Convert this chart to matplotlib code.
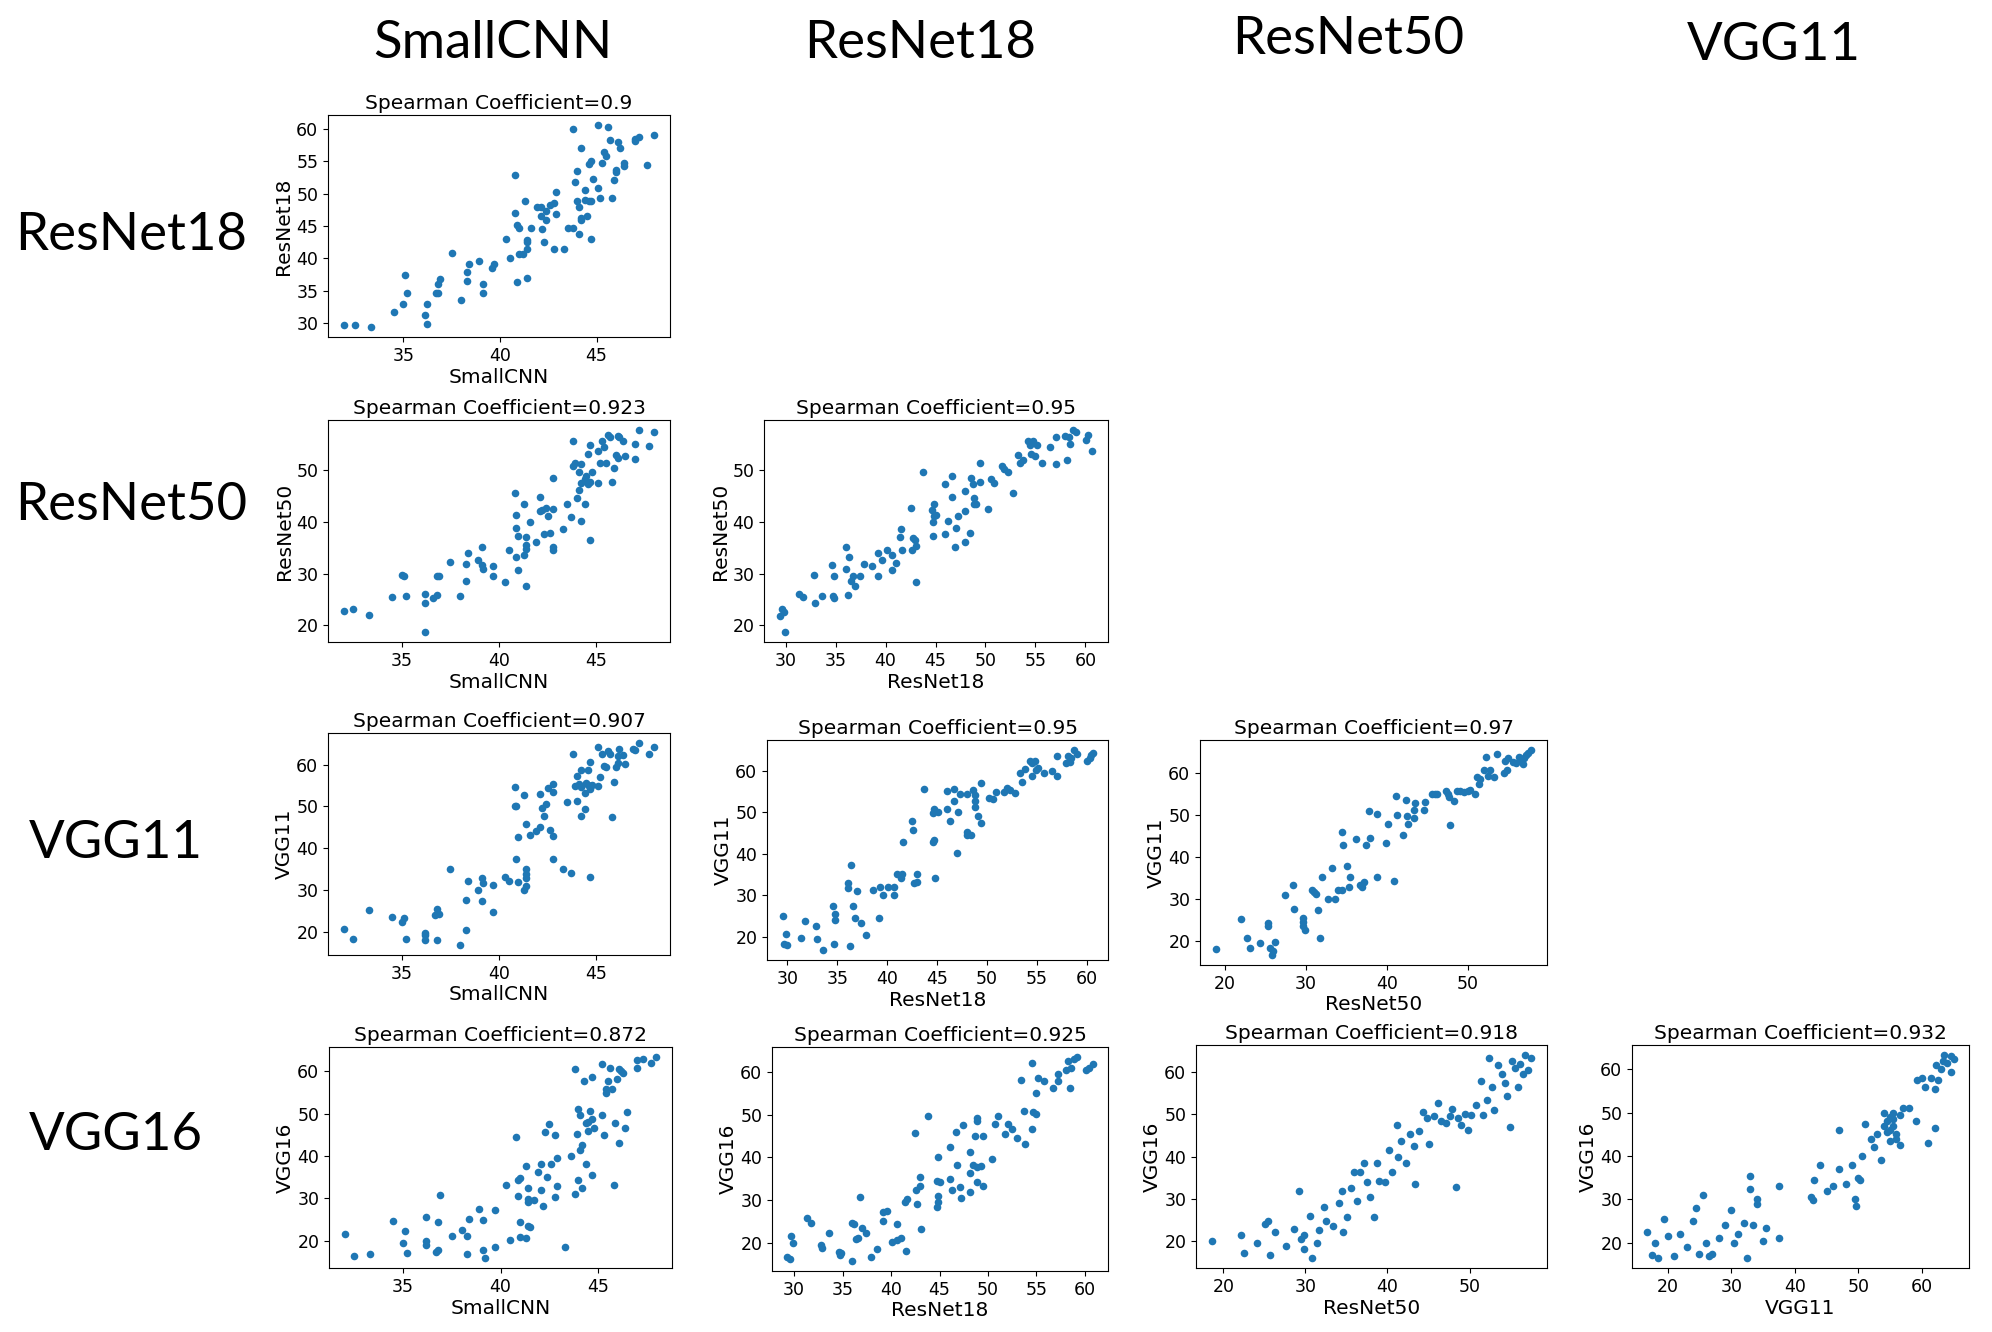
import matplotlib
matplotlib.use("Agg")
import matplotlib.pyplot as plt
from matplotlib.ticker import MultipleLocator

W, H = 1992, 1332

model_names = ["SmallCNN", "ResNet18", "ResNet50", "VGG11", "VGG16"]

# ---- panel data (x = column model, y = row model) ----
smallcnn_r18_x = [31.9, 32.5, 33.3, 34.5, 35.0, 35.1, 35.2, 36.1, 36.2, 36.2,
                  36.7, 36.8, 36.8, 36.9, 37.5, 38.0, 38.3, 38.3, 38.4, 38.9,
                  39.1, 39.1, 39.6, 39.7, 40.3, 40.5, 40.8, 40.8, 40.9, 40.9,
                  41.0, 41.0, 41.2, 41.3, 41.4, 41.4, 41.4, 41.4, 41.6, 41.9,
                  42.1, 42.1, 42.2, 42.3, 42.4, 42.4, 42.6, 42.8, 42.8, 42.9,
                  42.9, 43.3, 43.5, 43.8, 43.8, 43.9, 44.0, 44.0, 44.1, 44.1,
                  44.2, 44.2, 44.2, 44.4, 44.4, 44.5, 44.6, 44.6, 44.7, 44.7,
                  44.7, 44.8, 45.1, 45.1, 45.2, 45.3, 45.4, 45.5, 45.6, 45.7,
                  45.8, 45.9, 46.0, 46.0, 46.1, 46.2, 46.4, 46.4, 47.0, 47.0,
                  47.2, 47.6, 48.0]
smallcnn_r18_y = [29.7, 29.7, 29.4, 31.7, 32.9, 37.4, 34.6, 31.3, 29.8, 33.0,
                  34.7, 34.7, 36.1, 36.8, 40.9, 33.6, 36.5, 37.9, 39.1, 39.6,
                  34.6, 36.0, 38.5, 39.1, 43.0, 40.1, 47.0, 52.9, 36.3, 45.1,
                  44.7, 40.6, 40.6, 48.8, 42.9, 42.5, 41.4, 37.0, 44.7, 48.0,
                  48.0, 46.6, 44.5, 42.5, 45.9, 47.3, 48.3, 48.6, 41.5, 50.2,
                  46.9, 41.5, 44.7, 44.7, 60.0, 51.8, 53.5, 48.8, 43.7, 48.0,
                  45.9, 57.0, 46.2, 50.5, 49.0, 46.6, 48.8, 54.6, 43.0, 55.1,
                  48.8, 52.3, 60.6, 50.8, 49.4, 54.8, 56.5, 55.8, 60.3, 58.3,
                  49.4, 52.1, 53.3, 53.7, 58.0, 57.0, 54.3, 54.8, 58.1, 58.5,
                  58.7, 54.5, 59.1]

smallcnn_r50_x = [32.0, 32.5, 33.3, 34.5, 35.0, 35.1, 35.2, 36.2, 36.2, 36.2,
                  36.6, 36.8, 36.8, 36.9, 37.5, 38.0, 38.3, 38.3, 38.4, 38.9,
                  39.1, 39.1, 39.2, 39.7, 39.7, 40.3, 40.5, 40.8, 40.9, 40.9,
                  40.9, 41.0, 41.0, 41.3, 41.3, 41.4, 41.4, 41.4, 41.4, 41.6,
                  41.9, 42.1, 42.1, 42.2, 42.4, 42.3, 42.5, 42.6, 42.8, 42.8,
                  42.8, 42.8, 43.3, 43.5, 43.7, 43.8, 43.8, 43.9, 44.0, 44.1,
                  44.1, 44.2, 44.2, 44.2, 44.4, 44.4, 44.5, 44.6, 44.6, 44.7,
                  44.7, 44.7, 44.8, 45.1, 45.1, 45.2, 45.3, 45.4, 45.5, 45.6,
                  45.7, 45.8, 45.9, 46.0, 46.1, 46.1, 46.2, 46.4, 46.5, 47.0,
                  47.0, 47.2, 47.7, 48.0]
smallcnn_r50_y = [22.7, 23.1, 21.9, 25.4, 29.7, 29.6, 25.7, 26.0, 24.3, 18.7,
                  25.2, 25.9, 29.6, 29.6, 32.2, 25.7, 28.6, 31.8, 33.9, 32.7,
                  35.2, 31.6, 30.9, 31.4, 29.6, 28.4, 34.5, 45.6, 38.9, 41.3,
                  33.2, 37.3, 30.7, 33.6, 43.5, 35.5, 34.7, 37.1, 27.5, 39.9,
                  36.1, 44.8, 42.1, 42.4, 42.7, 37.7, 41.1, 37.9, 34.6, 35.1,
                  48.6, 42.5, 38.7, 43.5, 40.9, 55.7, 50.8, 51.5, 44.6, 49.7,
                  46.1, 40.1, 47.5, 51.2, 43.5, 48.3, 49.0, 47.4, 53.2, 55.0,
                  36.6, 47.8, 49.6, 53.7, 47.6, 51.5, 55.7, 54.6, 51.5, 56.9,
                  56.4, 47.8, 50.4, 53.0, 56.7, 52.3, 56.4, 55.7, 52.8, 55.1,
                  52.2, 57.8, 54.8, 57.5]

r18_r50_x = [29.4, 29.6, 29.8, 29.9, 31.3, 31.7, 32.8, 32.9, 33.6, 34.6,
             34.7, 34.8, 34.8, 36.0, 36.0, 36.3, 36.2, 36.5, 36.7, 36.9,
             37.4, 37.8, 38.6, 39.2, 39.2, 39.6, 40.1, 40.6, 40.6, 41.0,
             41.4, 41.5, 41.6, 42.5, 42.6, 42.7, 42.9, 43.0, 43.0, 43.7,
             44.6, 44.7, 44.7, 44.8, 44.8, 45.1, 46.0, 46.0, 46.3, 46.7,
             46.7, 47.0, 47.1, 47.3, 48.0, 48.0, 48.0, 48.5, 48.6, 48.8,
             48.9, 48.9, 49.1, 49.5, 49.5, 50.3, 50.6, 50.9, 51.7, 51.9,
             52.3, 52.8, 53.3, 53.5, 53.8, 54.3, 54.5, 54.6, 54.8, 55.0,
             55.2, 55.7, 56.5, 57.1, 57.1, 58.0, 58.2, 58.4, 58.5, 58.8,
             59.1, 60.1, 60.3, 60.7]
r18_r50_y = [21.8, 23.1, 22.6, 18.7, 26.1, 25.5, 29.8, 24.3, 25.7, 31.6,
             25.7, 25.3, 29.6, 35.1, 30.9, 33.2, 25.8, 28.6, 29.6, 27.5,
             29.6, 31.8, 31.4, 33.9, 29.6, 32.7, 34.5, 33.6, 30.7, 32.1,
             37.1, 38.7, 34.5, 42.7, 34.5, 36.9, 36.5, 35.3, 28.4, 49.7,
             42.4, 37.3, 39.9, 43.5, 41.1, 41.3, 47.4, 37.7, 40.1, 49.0,
             44.8, 35.1, 38.9, 41.1, 46.0, 42.1, 36.1, 37.9, 48.6, 47.4,
             44.7, 43.5, 43.5, 51.5, 47.8, 42.5, 48.4, 47.6, 50.8, 50.3,
             49.6, 45.6, 53.0, 51.4, 52.1, 55.7, 55.0, 53.2, 55.7, 52.8,
             55.0, 51.5, 54.6, 56.5, 51.2, 56.7, 52.1, 56.5, 55.1, 57.8,
             57.5, 55.8, 56.9, 53.8]

smallcnn_vgg11_x = [32.0, 32.5, 33.3, 34.5, 35.0, 35.1, 35.2, 36.2, 36.2, 36.2,
                    36.7, 36.8, 36.8, 36.9, 37.5, 38.0, 38.3, 38.3, 38.4, 38.9,
                    39.1, 39.1, 39.2, 39.7, 39.7, 40.3, 40.5, 40.8, 40.8, 40.9,
                    40.9, 41.0, 41.0, 41.3, 41.3, 41.4, 41.4, 41.4, 41.4, 41.4,
                    41.6, 41.9, 42.1, 42.1, 42.2, 42.4, 42.3, 42.5, 42.6, 42.8,
                    42.8, 42.8, 42.8, 43.3, 43.5, 43.7, 43.8, 43.9, 44.0, 44.0,
                    44.1, 44.2, 44.2, 44.2, 44.4, 44.4, 44.5, 44.6, 44.6, 44.7,
                    44.7, 44.7, 44.8, 45.1, 45.1, 45.2, 45.3, 45.4, 45.5, 45.6,
                    45.7, 45.8, 45.9, 46.0, 46.1, 46.1, 46.2, 46.4, 46.5, 47.0,
                    46.9, 47.2, 47.7, 48.0]
smallcnn_vgg11_y = [20.6, 18.3, 25.1, 23.6, 22.4, 23.3, 18.3, 19.6, 17.9, 19.1,
                    24.0, 17.9, 25.3, 24.2, 35.1, 16.8, 27.5, 20.4, 32.1, 29.9,
                    32.9, 27.3, 31.6, 31.2, 24.6, 33.2, 32.1, 54.7, 50.0, 50.0,
                    37.3, 42.7, 31.9, 29.9, 52.7, 35.1, 33.9, 32.9, 31.0, 45.8,
                    43.2, 44.0, 45.1, 52.9, 49.6, 50.7, 47.8, 54.4, 44.4, 42.9,
                    55.3, 53.4, 37.5, 35.1, 51.0, 34.1, 62.5, 55.0, 57.3, 51.2,
                    55.4, 47.8, 58.7, 54.7, 49.3, 53.2, 55.6, 55.1, 58.7, 60.7,
                    33.1, 54.1, 55.2, 64.3, 54.9, 57.1, 62.5, 59.8, 59.5, 63.4,
                    62.5, 47.5, 55.9, 59.5, 62.1, 60.5, 63.7, 62.3, 60.2, 63.5,
                    63.9, 65.2, 62.7, 64.2]

r18_vgg11_x = [29.5, 29.7, 29.9, 30.0, 31.4, 31.8, 32.9, 33.0, 33.6, 34.6,
               34.7, 34.8, 34.8, 36.1, 36.1, 36.3, 36.4, 36.6, 36.8, 37.0,
               37.4, 37.9, 38.6, 39.2, 39.3, 39.6, 40.1, 40.7, 40.7, 41.0,
               41.4, 41.5, 41.6, 42.5, 42.6, 42.7, 43.0, 43.0, 43.7, 44.6,
               44.7, 44.6, 44.7, 44.8, 45.1, 46.0, 46.0, 46.3, 46.7, 46.7,
               47.0, 47.1, 47.3, 48.0, 48.0, 48.0, 48.4, 48.6, 48.8, 48.8,
               48.8, 49.1, 49.4, 49.4, 50.2, 50.6, 50.9, 51.7, 52.0, 52.3,
               52.8, 53.3, 53.5, 53.8, 54.3, 54.5, 54.5, 54.8, 54.9, 55.1,
               55.7, 56.5, 57.0, 57.0, 57.9, 58.1, 58.3, 58.4, 58.7, 59.0,
               60.0, 60.3, 60.4, 60.6]
r18_vgg11_y = [25.1, 18.3, 20.7, 17.9, 19.8, 23.7, 22.5, 19.5, 16.8, 27.3,
               18.3, 24.1, 25.4, 32.9, 31.7, 17.8, 37.3, 27.5, 24.4, 30.9,
               23.4, 20.5, 31.2, 24.6, 32.1, 30.0, 32.1, 32.0, 30.0, 35.1,
               34.1, 35.1, 42.9, 47.8, 45.8, 32.9, 33.2, 35.1, 55.5, 42.9,
               43.2, 49.7, 50.9, 34.1, 50.0, 50.7, 55.1, 47.8, 52.8, 55.5,
               40.1, 50.0, 54.3, 45.2, 44.4, 54.5, 44.4, 55.3, 54.1, 52.6,
               51.2, 49.2, 57.1, 47.5, 53.4, 53.1, 54.8, 54.8, 55.8, 55.3,
               54.6, 59.4, 57.3, 60.4, 62.4, 61.9, 58.8, 62.4, 60.2, 60.7,
               59.4, 59.9, 63.5, 58.7, 61.9, 63.5, 62.2, 63.1, 65.0, 64.1,
               62.4, 63.1, 63.9, 64.3]

r50_vgg11_x = [18.9, 22.0, 22.7, 23.1, 24.4, 25.3, 25.4, 25.6, 25.8, 25.9,
               26.2, 27.4, 28.4, 28.6, 29.6, 29.6, 29.7, 29.9, 30.8, 31.0,
               31.3, 31.5, 31.8, 32.0, 32.8, 33.2, 33.6, 34.0, 34.5, 34.5,
               34.6, 35.1, 35.3, 35.4, 36.2, 36.7, 36.9, 37.2, 37.4, 37.8,
               37.9, 38.8, 38.8, 39.9, 40.1, 40.9, 41.1, 41.2, 42.0, 42.4,
               42.5, 42.6, 43.4, 43.4, 43.5, 44.6, 44.7, 45.6, 45.9, 46.2,
               47.3, 47.5, 47.7, 47.8, 48.3, 48.6, 49.0, 49.5, 50.0, 50.3,
               50.9, 51.1, 51.4, 51.5, 52.0, 52.2, 52.5, 52.7, 53.2, 53.6,
               54.4, 54.8, 54.6, 54.9, 55.5, 55.9, 56.3, 56.5, 56.8, 56.9,
               57.2, 57.4, 57.8]
r50_vgg11_y = [18.0, 25.1, 20.7, 18.3, 19.5, 24.2, 23.6, 18.4, 16.7, 17.7,
               19.8, 31.0, 33.3, 27.5, 25.4, 24.4, 23.5, 22.5, 32.0, 31.7,
               31.2, 27.3, 20.6, 35.1, 30.0, 37.3, 30.0, 32.2, 32.2, 45.9,
               42.9, 37.7, 32.9, 35.1, 44.2, 33.2, 32.9, 34.1, 42.7, 50.8,
               44.5, 50.1, 35.1, 43.2, 47.8, 34.2, 54.4, 50.0, 45.2, 53.5,
               49.7, 47.8, 51.1, 49.3, 52.8, 51.2, 53.0, 54.8, 54.8, 54.8,
               55.5, 54.8, 54.2, 47.6, 53.3, 55.5, 55.7, 55.4, 55.7, 55.9,
               55.0, 58.9, 57.3, 58.5, 60.6, 63.7, 59.1, 60.5, 58.9, 64.4,
               60.0, 60.7, 62.7, 63.5, 62.6, 62.3, 63.8, 63.0, 62.1, 63.4,
               64.2, 64.6, 65.3]

smallcnn_vgg16_x = [32.0, 32.5, 33.3, 34.5, 35.0, 35.1, 35.2, 36.2, 36.2, 36.2,
                    36.7, 36.8, 36.8, 36.9, 37.5, 38.0, 38.3, 38.3, 38.4, 38.9,
                    39.1, 39.1, 39.2, 39.7, 39.7, 40.3, 40.5, 40.8, 40.9, 40.9,
                    41.0, 41.0, 41.0, 41.3, 41.3, 41.4, 41.4, 41.4, 41.4, 41.5,
                    41.7, 41.9, 42.1, 42.1, 42.2, 42.3, 42.4, 42.5, 42.6, 42.8,
                    42.8, 42.9, 42.9, 43.3, 43.6, 43.8, 43.8, 43.9, 44.0, 44.0,
                    44.1, 44.1, 44.2, 44.2, 44.3, 44.4, 44.4, 44.5, 44.5, 44.6,
                    44.7, 44.7, 44.7, 44.8, 45.2, 45.2, 45.3, 45.4, 45.4, 45.5,
                    45.6, 45.7, 45.8, 45.9, 46.0, 46.1, 46.1, 46.2, 46.3, 46.4,
                    46.5, 47.0, 47.0, 47.3, 47.7, 48.0]
smallcnn_vgg16_y = [21.6, 16.3, 16.8, 24.7, 19.4, 22.3, 17.1, 25.7, 20.0, 19.0,
                    17.3, 24.5, 17.7, 30.8, 21.2, 22.4, 21.2, 16.9, 25.0, 27.4,
                    24.8, 17.7, 15.9, 18.4, 27.2, 33.2, 20.1, 44.5, 30.5, 34.3,
                    20.8, 24.3, 34.7, 20.7, 37.7, 23.4, 32.5, 29.2, 29.8, 23.3,
                    29.6, 36.3, 31.9, 38.2, 28.3, 45.7, 35.1, 47.5, 38.2, 30.2,
                    45.0, 32.9, 39.6, 18.4, 40.1, 31.0, 60.6, 45.3, 51.0, 34.4,
                    49.7, 41.4, 42.5, 32.5, 57.7, 47.8, 38.0, 45.8, 48.1, 50.6,
                    58.7, 35.5, 48.8, 46.6, 61.7, 49.7, 45.0, 55.0, 55.9, 57.7,
                    60.9, 55.9, 33.2, 47.8, 58.1, 43.0, 60.6, 60.2, 59.6, 46.6,
                    50.3, 62.7, 60.9, 63.0, 62.0, 63.4]

r18_vgg16_x = [29.3, 29.6, 29.7, 29.9, 31.3, 31.7, 32.8, 32.9, 33.6, 34.6,
               34.7, 34.8, 36.0, 36.0, 36.2, 36.4, 36.6, 36.8, 37.0, 37.4,
               37.9, 38.6, 39.2, 39.2, 39.6, 40.1, 40.6, 40.6, 41.0, 41.5,
               41.4, 41.6, 42.5, 42.6, 42.7, 43.0, 43.0, 43.1, 43.8, 44.7,
               44.8, 44.8, 44.8, 44.7, 45.1, 46.1, 46.1, 46.3, 46.7, 46.8,
               47.1, 47.2, 47.4, 48.1, 48.1, 48.1, 48.5, 48.7, 48.9, 48.9,
               48.9, 48.9, 49.3, 49.5, 49.5, 50.4, 50.7, 51.0, 51.8, 52.1,
               52.5, 53.0, 53.4, 53.7, 53.8, 54.5, 54.5, 54.6, 55.0, 55.0,
               55.2, 55.8, 56.7, 57.2, 57.2, 58.0, 58.3, 58.5, 58.6, 58.9,
               59.2, 60.1, 60.4, 60.8]
r18_vgg16_y = [16.8, 16.3, 21.6, 19.9, 25.7, 24.7, 19.4, 18.8, 22.4, 17.8,
               17.1, 17.6, 15.8, 24.7, 24.4, 20.9, 21.2, 30.7, 23.5, 22.3,
               16.7, 18.5, 27.1, 25.0, 27.4, 20.2, 24.3, 20.6, 21.2, 18.2,
               29.5, 30.2, 45.6, 32.4, 29.0, 35.5, 33.2, 23.3, 49.7, 34.5,
               40.1, 31.0, 29.5, 28.3, 34.3, 42.5, 35.0, 32.4, 45.8, 38.2,
               33.0, 30.5, 47.5, 41.3, 36.3, 32.0, 38.2, 44.9, 49.1, 48.5,
               37.7, 34.3, 37.9, 45.0, 33.2, 39.6, 47.8, 49.7, 45.4, 47.8,
               46.6, 44.4, 58.1, 50.9, 43.0, 62.0, 46.6, 50.6, 50.2, 55.0,
               58.6, 57.8, 56.2, 59.5, 57.8, 60.5, 62.6, 56.1, 60.8, 63.0,
               63.4, 60.5, 60.9, 61.8]

r50_vgg16_x = [18.6, 22.2, 22.5, 24.1, 25.1, 25.4, 25.7, 26.3, 27.6, 28.6,
               29.2, 29.4, 29.8, 29.8, 30.5, 30.8, 31.4, 31.7, 32.2, 32.5,
               33.3, 34.1, 34.4, 34.6, 35.1, 35.6, 35.9, 36.3, 36.7, 37.1,
               37.5, 37.9, 38.4, 38.7, 39.0, 39.7, 40.2, 40.6, 41.1, 41.3,
               41.7, 42.2, 42.7, 43.2, 43.3, 43.8, 44.3, 44.8, 45.1, 45.7,
               46.2, 46.5, 47.1, 47.6, 47.9, 48.3, 48.6, 48.9, 49.4, 49.8,
               50.2, 50.8, 51.4, 51.7, 52.1, 52.4, 52.7, 53.0, 53.5, 54.0,
               54.3, 54.6, 54.9, 55.2, 55.6, 55.9, 56.2, 56.5, 56.8, 57.1,
               57.5]
r50_vgg16_y = [20.0, 21.5, 17.3, 19.7, 24.2, 24.8, 16.7, 22.1, 18.8, 23.0,
               31.9, 20.6, 21.5, 18.2, 26.0, 16.1, 19.7, 22.7, 28.1, 24.8,
               23.6, 29.0, 31.9, 22.1, 25.7, 32.5, 36.4, 29.6, 36.4, 38.5,
               34.0, 30.4, 25.7, 38.5, 34.3, 34.0, 41.5, 36.4, 47.5, 40.0,
               43.6, 38.5, 45.4, 42.4, 33.4, 46.0, 50.4, 49.0, 43.0, 49.6,
               52.5, 48.4, 47.8, 49.6, 51.3, 32.8, 49.0, 47.5, 50.1, 46.3,
               49.9, 52.2, 57.9, 49.9, 53.4, 63.3, 56.4, 51.0, 61.5, 59.4,
               57.3, 54.3, 46.9, 62.4, 60.9, 56.4, 61.8, 59.4, 63.9, 60.3,
               63.3]

vgg11_vgg16_x = [16.8, 17.5, 18.0, 18.5, 19.5, 20.0, 21.0, 22.0, 23.0, 24.0,
                 24.5, 25.0, 25.5, 26.0, 26.5, 27.0, 28.0, 29.0, 30.0, 30.5,
                 31.0, 32.0, 32.5, 33.0, 33.0, 33.5, 34.0, 34.0, 35.0, 35.5,
                 37.5, 37.5, 42.5, 42.8, 43.0, 44.0, 45.0, 46.0, 47.0, 47.0,
                 48.0, 49.0, 49.5, 49.6, 50.0, 50.3, 50.6, 51.0, 52.0, 52.5,
                 53.0, 53.5, 54.0, 54.0, 54.5, 54.5, 55.0, 55.0, 55.0, 55.5,
                 55.5, 55.5, 56.0, 56.0, 56.5, 56.5, 57.0, 58.0, 59.0, 59.3,
                 60.0, 60.5, 61.0, 61.5, 62.0, 62.0, 62.2, 62.5, 63.0, 63.3,
                 63.5, 64.0, 64.5, 64.5, 65.0]
vgg11_vgg16_y = [22.5, 17.2, 20.0, 16.5, 25.5, 21.5, 17.0, 22.0, 19.0, 25.0,
                 28.0, 17.5, 31.0, 20.0, 17.0, 17.5, 21.0, 24.0, 27.5, 20.0,
                 22.0, 24.5, 16.5, 32.5, 35.5, 24.0, 30.0, 29.0, 20.5, 23.5,
                 33.0, 21.0, 30.5, 29.8, 34.5, 38.0, 32.0, 33.0, 37.0, 46.0,
                 33.5, 38.0, 30.0, 28.5, 35.0, 34.5, 40.0, 47.5, 44.0, 42.0,
                 45.0, 39.0, 50.0, 47.0, 48.0, 45.5, 49.0, 46.0, 43.5, 47.0,
                 50.0, 48.5, 45.0, 44.0, 49.5, 42.5, 51.0, 51.0, 48.0, 57.5,
                 58.0, 56.0, 43.0, 58.0, 46.5, 55.5, 61.0, 57.5, 60.0, 62.0,
                 63.3, 61.5, 63.0, 59.5, 62.5]

spearman = ["0.9", "0.923", "0.95", "0.907", "0.95", "0.97",
            "0.872", "0.925", "0.918", "0.932"]

panels = [
    # (row, col, x, y, spearman, x tick step, y tick step, box l, r, t, b in px)
    (0, 0, smallcnn_r18_x, smallcnn_r18_y, spearman[0], 5, 5, (328, 670, 115, 337)),
    (1, 0, smallcnn_r50_x, smallcnn_r50_y, spearman[1], 5, 10, (328, 670, 420, 642)),
    (1, 1, r18_r50_x, r18_r50_y, spearman[2], 5, 10, (764, 1108, 420, 642)),
    (2, 0, smallcnn_vgg11_x, smallcnn_vgg11_y, spearman[3], 5, 10, (328, 670, 733, 955)),
    (2, 1, r18_vgg11_x, r18_vgg11_y, spearman[4], 5, 10, (767, 1108, 740, 960)),
    (2, 2, r50_vgg11_x, r50_vgg11_y, spearman[5], 10, 10, (1200, 1547, 740, 965)),
    (3, 0, smallcnn_vgg16_x, smallcnn_vgg16_y, spearman[6], 5, 10, (329, 672, 1047, 1268)),
    (3, 1, r18_vgg16_x, r18_vgg16_y, spearman[7], 5, 10, (772, 1108, 1047, 1271)),
    (3, 2, r50_vgg16_x, r50_vgg16_y, spearman[8], 10, 10, (1196, 1547, 1045, 1268)),
    (3, 3, vgg11_vgg16_x, vgg11_vgg16_y, spearman[9], 10, 10, (1632, 1969, 1045, 1268)),
]

fig = plt.figure(figsize=(W / 100, H / 100), dpi=100)
fig.patch.set_facecolor("white")

for row, col, xs, ys, rho, xstep, ystep, (l, r, t, b) in panels:
    ax = fig.add_axes([l / W, 1 - b / H, (r - l) / W, (b - t) / H])
    ax.scatter(xs, ys, s=30, color="#1f77b4", linewidths=0)
    ax.xaxis.set_major_locator(MultipleLocator(xstep))
    ax.yaxis.set_major_locator(MultipleLocator(ystep))
    ax.tick_params(labelsize=12.5)
    ax.set_title(f"Spearman Coefficient={rho}", fontsize=14.5, pad=4)
    ax.set_xlabel(model_names[col], fontsize=14.5, labelpad=2)
    ax.set_ylabel(model_names[row + 1], fontsize=14.5, labelpad=2)

big = dict(fontsize=38, family=["Lato", "DejaVu Sans"], ha="center", va="center")
col_title_pos = [(493, 44), (920, 44), (1348, 40), (1774, 46)]
for name, (x, y) in zip(model_names[:4], col_title_pos):
    fig.text(x / W, 1 - y / H, name, **big)
row_label_pos = [(131, 236), (131, 505), (116, 843), (116, 1135)]
for name, (x, y) in zip(model_names[1:], row_label_pos):
    fig.text(x / W, 1 - y / H, name, **big)

fig.savefig("out.png", dpi=100)
